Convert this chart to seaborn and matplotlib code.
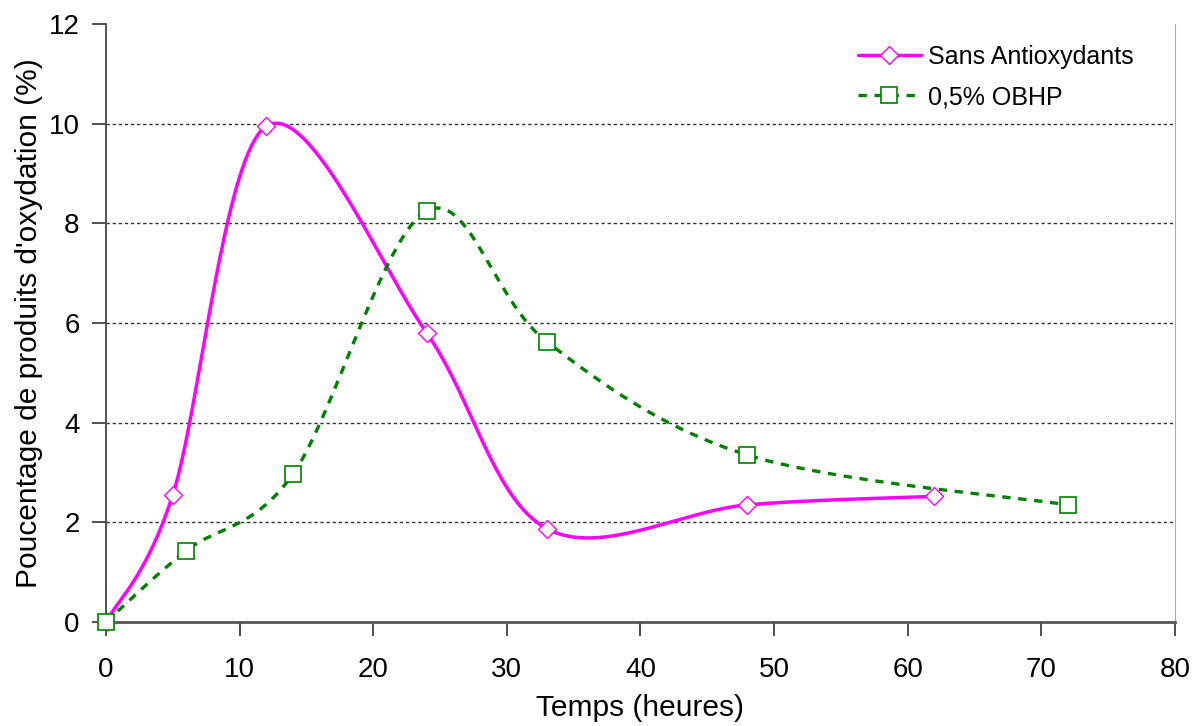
import numpy as np
import pandas as pd
import matplotlib
matplotlib.use('Agg')
import matplotlib.pyplot as plt
from matplotlib.lines import Line2D
import seaborn as sns

# data
temps_sans = [0, 5, 12, 24, 33, 48, 62]
valeurs_sans = [0.0, 2.55, 9.95, 5.8, 1.87, 2.35, 2.52]
temps_obhp = [0, 6, 14, 24, 33, 48, 72]
valeurs_obhp = [0.0, 1.43, 2.97, 8.25, 5.62, 3.35, 2.35]
x_ticks = list(range(0, 81, 10))
y_ticks = list(range(0, 13, 2))

sns.set_style('white')
plt.rcParams['font.family'] = ['Liberation Sans', 'DejaVu Sans']
plt.rcParams['text.color'] = 'black'
plt.rcParams['axes.labelcolor'] = 'black'
plt.rcParams['xtick.color'] = 'black'
plt.rcParams['ytick.color'] = 'black'


def lissage(x, y, n=40):
    # Excel-style smoothed line (bezier through the points)
    x = np.asarray(x, float)
    y = np.asarray(y, float)
    pts = np.column_stack([x, y])
    out = []
    for i in range(len(pts) - 1):
        p0 = pts[i - 1] if i > 0 else pts[i]
        p1 = pts[i]
        p2 = pts[i + 1]
        p3 = pts[i + 2] if i + 2 < len(pts) else pts[i + 1]
        c1 = p1 + (p2 - p0) / 6
        c2 = p2 - (p3 - p1) / 6
        t = np.linspace(0, 1, n)[:, None]
        seg = ((1 - t) ** 3) * p1 + 3 * ((1 - t) ** 2) * t * c1 + 3 * (1 - t) * t ** 2 * c2 + t ** 3 * p2
        out.append(seg if i == 0 else seg[1:])
    seg = np.vstack(out)
    return pd.DataFrame({'x': seg[:, 0], 'y': seg[:, 1]})


fig = plt.figure(figsize=(11.96, 7.26), dpi=100)
ax = fig.add_axes([0.0886, 0.1433, 0.8938, 0.8237])

magenta = '#FF00FF'
vert = '#008000'
tirets = (0, (2.5, 2.3))

courbe_sans = lissage(temps_sans, valeurs_sans)
courbe_obhp = lissage(temps_obhp, valeurs_obhp)

sns.lineplot(data=courbe_sans, x='x', y='y', sort=False, color=magenta, lw=2.5, ax=ax, zorder=3)
sns.lineplot(data=courbe_obhp, x='x', y='y', sort=False, color=vert, lw=2.4, ax=ax, zorder=3,
             linestyle=tirets)

ax.plot(temps_sans, valeurs_sans, ls='none', marker='D', ms=9.5, mfc='white', mec=magenta, mew=1.0,
        zorder=6, clip_on=False)
ax.plot(temps_obhp, valeurs_obhp, ls='none', marker='s', ms=12, mfc='white', mec=vert, mew=1.2,
        zorder=7, clip_on=False)

ax.set_xlim(0, 80)
ax.set_ylim(0, 12)
ax.set_xticks(x_ticks)
ax.set_yticks(y_ticks)
ax.tick_params(axis='both', labelsize=20, direction='out', length=10, width=1.2, color='#333333',
               bottom=True, left=True)
ax.tick_params(axis='x', pad=15)
ax.tick_params(axis='y', pad=9)

for v in y_ticks[1:-1]:
    ax.axhline(v, color='#333333', lw=1.0, ls=(0, (2.4, 2.0)), zorder=1)

ax.spines['top'].set_visible(False)
ax.spines['right'].set_color('#aaaaaa')
ax.spines['left'].set_color('#444444')
ax.spines['left'].set_linewidth(1.3)
ax.spines['bottom'].set_color('#555555')
ax.spines['bottom'].set_linewidth(2.0)
ax.spines['bottom'].set_zorder(5)

ax.set_xlabel('Temps (heures)', fontsize=21.5, labelpad=8)
ax.set_ylabel("Poucentage de produits d'oxydation (%)", fontsize=21.5, labelpad=4)

handles = [
    Line2D([], [], color=magenta, lw=2.5, marker='D', ms=9.5, mfc='white', mec=magenta, mew=1.0),
    Line2D([], [], color=vert, lw=2.4, ls=tirets, marker='s', ms=12, mfc='white', mec=vert, mew=1.2),
]
ax.legend(handles, ['Sans Antioxydants', '0,5% OBHP'], loc='upper left',
          bbox_to_anchor=(858 / 1196, 1 - 45 / 726), bbox_transform=fig.transFigure,
          frameon=False, fontsize=18, handlelength=2.5, handletextpad=0.3, labelspacing=0.64,
          borderpad=0, borderaxespad=0, numpoints=1)

fig.savefig('out.png', dpi=100)
